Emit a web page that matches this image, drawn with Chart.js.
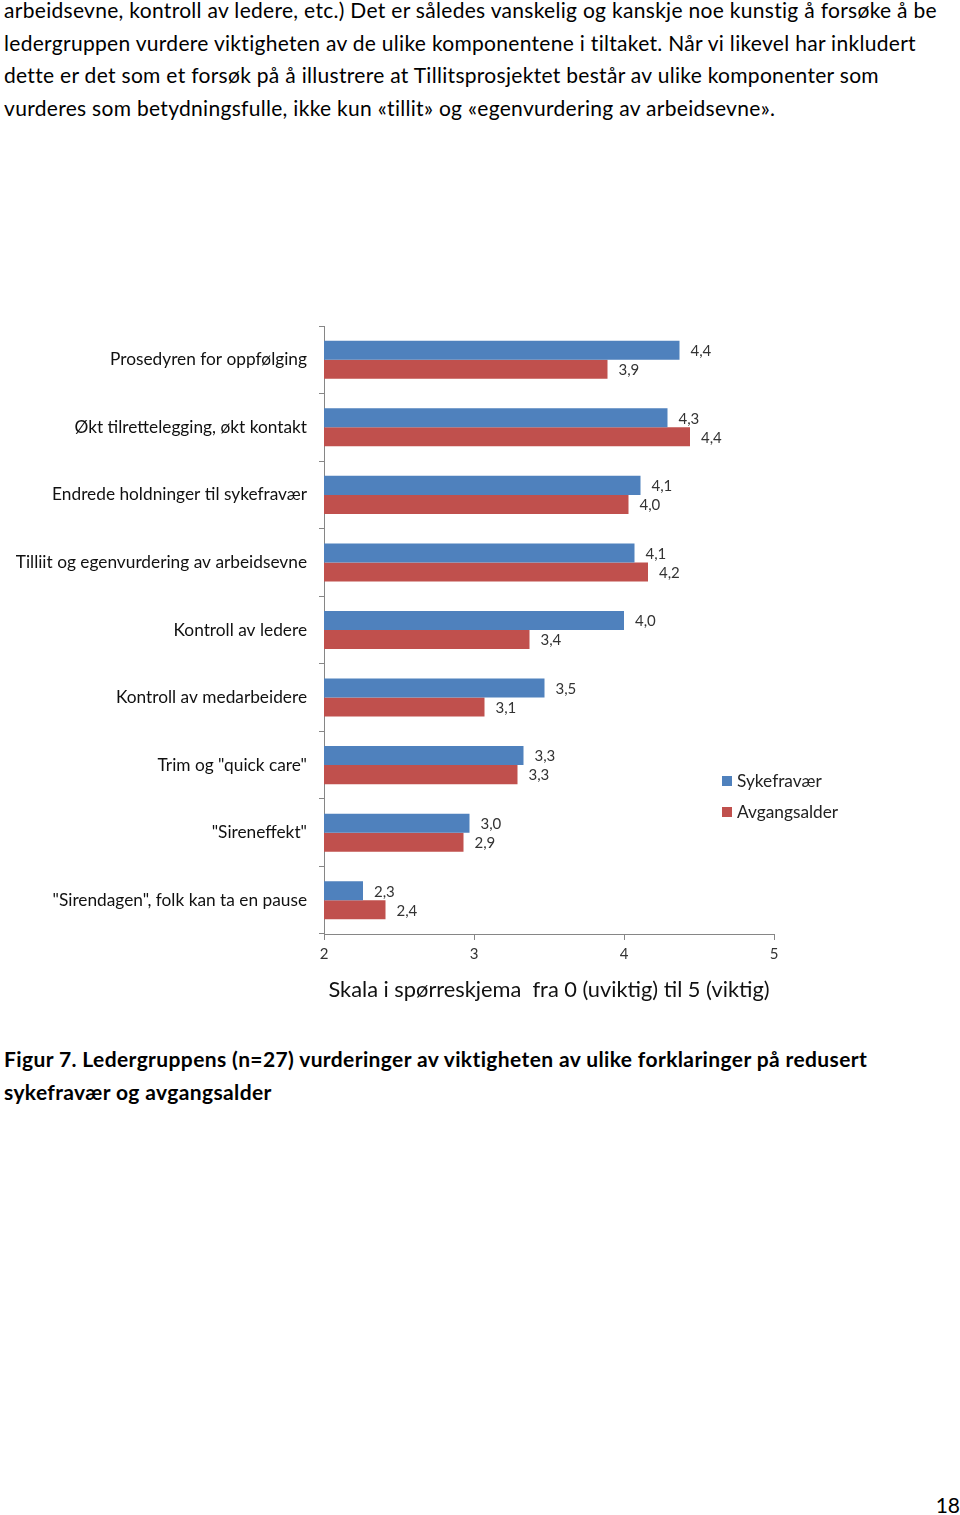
<!DOCTYPE html>
<html>
<head>
<meta charset="utf-8">
<script src="https://cdn.jsdelivr.net/npm/chart.js@4"></script>
<style>
  body { margin: 0; width: 960px; height: 1515px; background: #fff; position: relative; overflow: hidden; font-family: Lato, "Noto Sans", sans-serif; color: #000; }
  .line { position: absolute; left: 4px; white-space: nowrap; font-size: 21px; letter-spacing: 0.3px; line-height: 32px; }
  .cap { font-weight: bold; letter-spacing: 0.38px; }
  #chartbox { position: absolute; left: 0; top: 300px; width: 960px; height: 703px; }
  #pageno { position: absolute; right: 0px; top: 1489px; font-size: 21px; line-height: 32px; }
</style>
</head>
<body>
<div class="line" style="top:-6px">arbeidsevne, kontroll av ledere, etc.) Det er således vanskelig og kanskje noe kunstig å forsøke å be</div>
<div class="line" style="top:26.5px">ledergruppen vurdere viktigheten av de ulike komponentene i tiltaket. Når vi likevel har inkludert</div>
<div class="line" style="top:59px">dette er det som et forsøk på å illustrere at Tillitsprosjektet består av ulike komponenter som</div>
<div class="line" style="top:91.5px">vurderes som betydningsfulle, ikke kun «tillit» og «egenvurdering av arbeidsevne».</div>

<div id="chartbox"><canvas id="bar_chart"></canvas></div>

<div class="line cap" style="top:1043px">Figur 7. Ledergruppens (n=27) vurderinger av viktigheten av ulike forklaringer på redusert</div>
<div class="line cap" style="top:1076px">sykefravær og avgangsalder</div>
<div id="pageno">18</div>

<script>
// categories, top to bottom
const categories = [
    "Prosedyren for oppfølging",
    "Økt tilrettelegging, økt kontakt",
    "Endrede holdninger til sykefravær",
    "Tilliit og egenvurdering av arbeidsevne",
    "Kontroll av ledere",
    "Kontroll av medarbeidere",
    "Trim og \"quick care\"",
    "\"Sireneffekt\"",
    "\"Sirendagen\", folk kan ta en pause"
];
// values
const Sykefravaer = [4.37, 4.29, 4.11, 4.07, 4.00, 3.47, 3.33, 2.97, 2.26];
const Avgangsalder = [3.89, 4.44, 4.03, 4.16, 3.37, 3.07, 3.29, 2.93, 2.41];
const x_ticks = [2, 3, 4, 5];
const series_names = ["Sykefravær", "Avgangsalder"];

const font_family = "Lato, 'Noto Sans', sans-serif";

// value labels next to each bar, with comma as decimal sign
const value_labels = {
    id: "value_labels",
    afterDatasetsDraw(chart) {
        const ctx = chart.ctx;
        ctx.save();
        ctx.font = "15px " + font_family;
        ctx.fillStyle = "#333";
        ctx.textAlign = "left";
        ctx.textBaseline = "middle";
        chart.data.datasets.forEach(function(ds, i) {
            chart.getDatasetMeta(i).data.forEach(function(bar, j) {
                const txt = ds.data[j].toFixed(1).replace(".", ",");
                ctx.fillText(txt, bar.x + 11, bar.y + 1);
            });
        });
        ctx.restore();
    }
};

// legend drawn by hand to sit at the lower right like the original
const side_legend = {
    id: "side_legend",
    afterDraw(chart) {
        const ctx = chart.ctx;
        ctx.save();
        ctx.font = "17.3px " + font_family;
        ctx.textBaseline = "middle";
        chart.data.datasets.forEach(function(ds, i) {
            const y = 481 + i * 31;
            ctx.fillStyle = ds.backgroundColor;
            ctx.fillRect(722, y - 5, 10, 10);
            ctx.fillStyle = "#222";
            ctx.fillText(ds.label, 737, y);
        });
        ctx.restore();
    }
};

const config = {
    type: "bar",
    data: {
        labels: categories,
        datasets: [
            {
                label: series_names[0],
                data: Sykefravaer,
                backgroundColor: "#4F81BD"
            },
            {
                label: series_names[1],
                data: Avgangsalder,
                backgroundColor: "#C0504D"
            }
        ]
    },
    options: {
        indexAxis: "y",
        responsive: true,
        maintainAspectRatio: false,
        animation: false,
        layout: { padding: { top: 26, right: 186, left: 0, bottom: 0 } },
        datasets: {
            bar: { barPercentage: 1.0, categoryPercentage: 0.563 }
        },
        plugins: {
            legend: { display: false },
            tooltip: { enabled: false }
        },
        scales: {
            x: {
                type: "linear",
                min: 2,
                max: 5,
                afterBuildTicks: function(scale) {
                    scale.ticks = x_ticks.map(function(v) { return { value: v }; });
                },
                afterFit: function(scale) { scale.height = 69; },
                grid: { drawOnChartArea: false, tickLength: 6, color: "#868686" },
                border: { color: "#868686" },
                ticks: { padding: 5, color: "#333", font: { size: 15, family: font_family } },
                title: {
                    display: true,
                    text: "Skala i spørreskjema  fra 0 (uviktig) til 5 (viktig)",
                    color: "#111",
                    padding: { top: 0, bottom: 0 },
                    font: { size: 21.8, family: font_family }
                }
            },
            y: {
                afterFit: function(scale) { scale.width = 324; },
                grid: { drawOnChartArea: false, tickLength: 5, color: "#868686" },
                border: { color: "#868686" },
                ticks: { padding: 12, color: "#111", font: { size: 17.3, family: font_family } }
            }
        }
    },
    plugins: [value_labels, side_legend]
};

const canvas = document.getElementById("bar_chart");
let my_bar_chart = new Chart(canvas, config);
</script>
</body>
</html>
